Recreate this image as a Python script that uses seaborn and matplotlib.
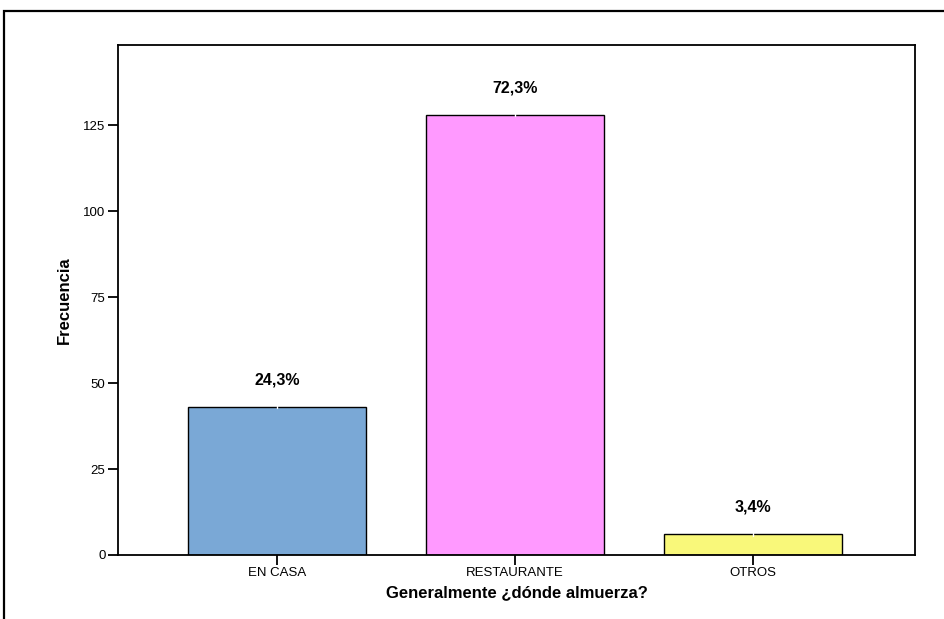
import matplotlib
matplotlib.use("Agg")
import matplotlib.pyplot as plt
from matplotlib.patches import Rectangle
import seaborn as sns
import pandas as pd

categories = ["EN CASA", "RESTAURANTE", "OTROS"]
counts = [43, 128, 6]
percent_labels = ["24,3%", "72,3%", "3,4%"]
bar_colors = ["#7aa8d6", "#ff99ff", "#f9f87a"]
y_ticks = [0, 25, 50, 75, 100, 125]

sns.set_theme(style="white")
plt.rcParams["font.family"] = ["Liberation Sans", "DejaVu Sans"]

df = pd.DataFrame({"categoria": categories, "frecuencia": counts})

fig = plt.figure(figsize=(9.45, 6.19), dpi=100)
ax = fig.add_axes([0.1249, 0.1034, 0.8434, 0.8239])

sns.barplot(data=df, x="categoria", y="frecuencia", hue="categoria",
            palette=bar_colors, order=categories, hue_order=categories,
            width=0.75, edgecolor="black", linewidth=1.0, legend=False,
            saturation=1, ax=ax)

ax.set_xlim(-0.668, 2.68)
ax.set_ylim(0, 148.3)
ax.set_yticks(y_ticks)
ax.set_yticklabels([str(t) for t in y_ticks])

for spine in ax.spines.values():
    spine.set_visible(True)
    spine.set_color("black")
    spine.set_linewidth(1.3)

ax.tick_params(axis="both", which="major", direction="out", length=7,
               width=1.3, color="black", labelsize=9.5, labelcolor="black",
               bottom=True, left=True, pad=2)

ax.set_xlabel("Generalmente ¿dónde almuerza?", fontsize=12, fontweight="bold",
              color="black", labelpad=4)
ax.set_ylabel("Frecuencia", fontsize=12, fontweight="bold", color="black",
              labelpad=8)

for i, (c, lab) in enumerate(zip(counts, percent_labels)):
    # small white connector at the top centre of each bar
    ax.plot([i, i], [c - 0.4, c + 0.4], color="white", lw=1.0, zorder=5)
    ax.annotate(lab, xy=(i, c), xytext=(0, 14), textcoords="offset points",
                ha="center", va="bottom", fontsize=11.5, fontweight="bold",
                color="black")

# outer frame around the whole chart
frame = Rectangle((0.0042, -0.05), 1.2, 1.032, transform=fig.transFigure,
                  fill=False, edgecolor="black", linewidth=1.6, zorder=10)
fig.patches.append(frame)

fig.savefig("out.png", dpi=100, facecolor="white")
